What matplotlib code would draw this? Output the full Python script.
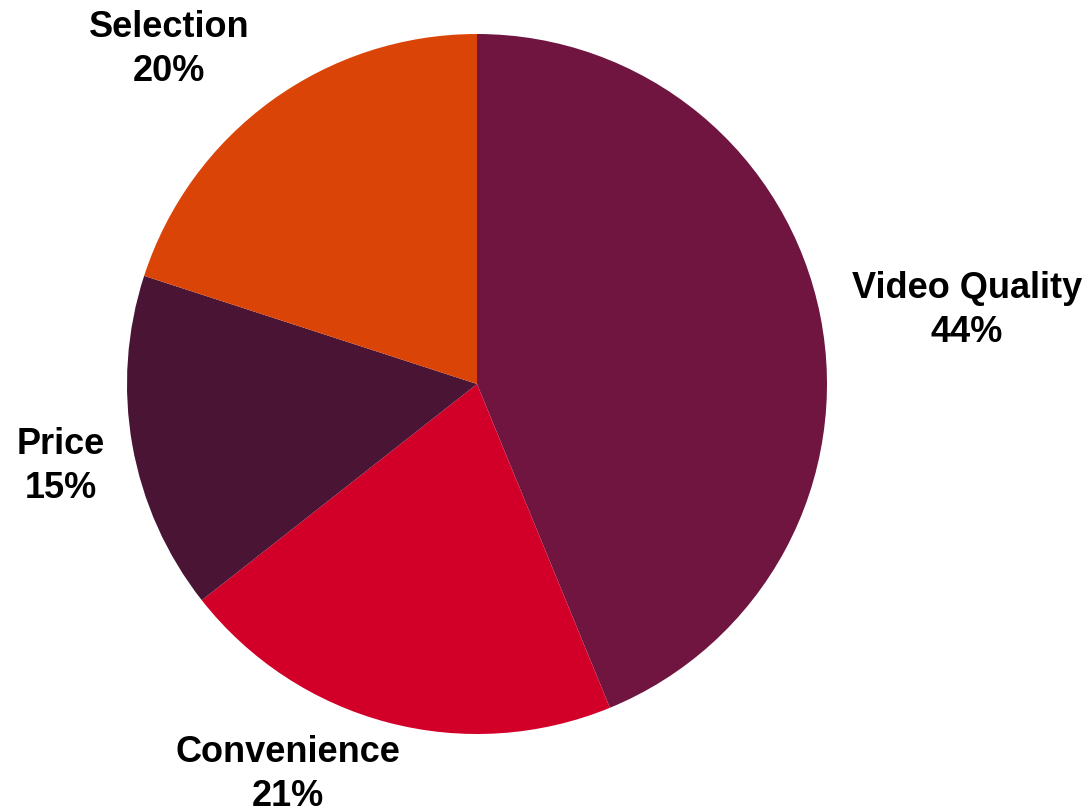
import matplotlib
matplotlib.use('Agg')
import matplotlib.pyplot as plt

# Slice data, clockwise from 12 o'clock (angles)
categories = ['Video Quality', 'Convenience', 'Price', 'Selection']
shares = [43.8, 20.6, 15.6, 20.0]
pct_labels = ['44%', '21%', '15%', '20%']  # as printed on the chart
colors = ['#701540', '#D20028', '#4A1535', '#DB4407']

# label block centres, in units of the pie radius (text placement only)
label_pos = [(1.40, 0.21), (-0.54, -1.115), (-1.19, -0.235), (-0.88, 0.955)]

plt.rcParams['font.family'] = ['Liberation Sans', 'DejaVu Sans']

fig = plt.figure(figsize=(10.92, 8.09), dpi=100)
ax = fig.add_axes([0, 0, 1, 1])

ax.pie(shares, colors=colors, startangle=90, counterclock=False,
       radius=1.0, wedgeprops={'linewidth': 0})

for name, pct, (lx, ly) in zip(categories, pct_labels, label_pos):
    ax.text(lx, ly, f'{name}\n{pct}', ha='center', va='center',
            fontsize=26, fontweight='bold', linespacing=1.35, color='black')

# pie centre at (477, 384) px from top-left, radius 350 px
r_px = 350.0
ax.set_xlim(-477 / r_px, (1092 - 477) / r_px)
ax.set_ylim(-(809 - 384) / r_px, 384 / r_px)
ax.set_aspect('auto')
ax.axis('off')

plt.savefig('out.png', dpi=100)
plt.close()
